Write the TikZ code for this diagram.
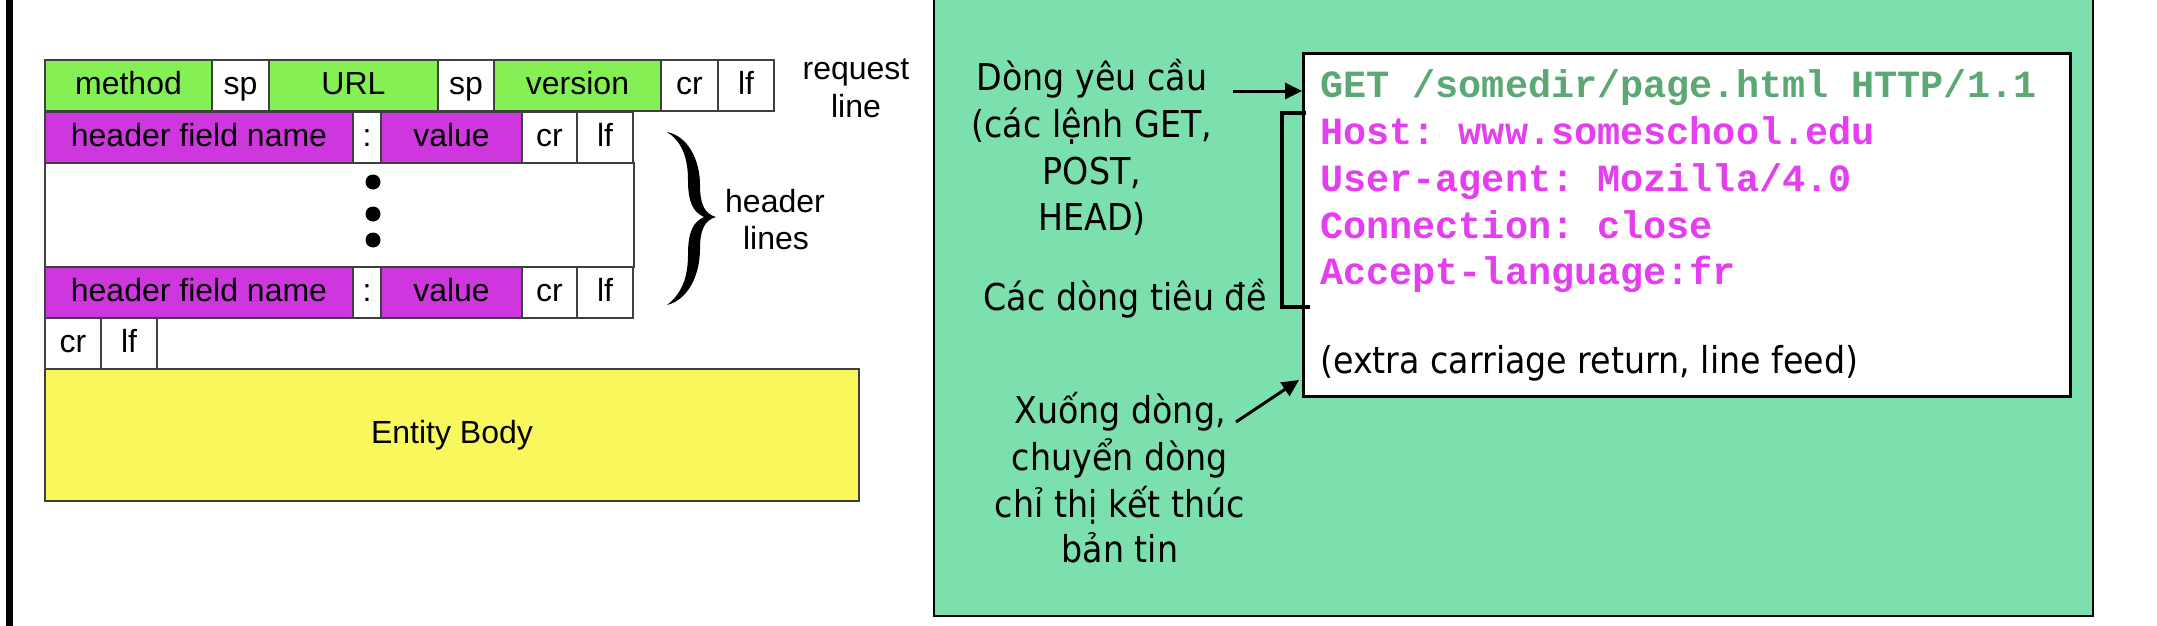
\documentclass[tikz,border=0pt]{standalone}
\usepackage{fontspec}
\setmainfont{Liberation Sans}
\newfontfamily\lblfont[FakeStretch=0.9]{DejaVu Sans}
\newfontfamily\monofont{Liberation Mono}
\usetikzlibrary{arrows.meta}
\definecolor{rowgreen}{RGB}{132,240,84}
\definecolor{rowmag}{RGB}{206,54,222}
\definecolor{bodyyel}{RGB}{248,248,92}
\definecolor{panelgreen}{RGB}{123,224,174}
\definecolor{getgreen}{RGB}{92,168,116}
\definecolor{hdrmag}{RGB}{228,62,240}
\frenchspacing
\begin{document}
\begin{tikzpicture}[x=1pt,y=-1pt,
  cell/.style={draw=black!75, line width=1.5pt, inner sep=0pt, outer sep=0pt, anchor=north west,
    text height=27pt, text depth=10pt, font=\fontsize{32}{38}\selectfont},
  gcell/.style={cell, fill=rowgreen, minimum height=51pt},
  wcell/.style={cell, fill=white, minimum height=51pt},
  mcell/.style={cell, fill=rowmag, minimum height=51pt},
  side/.style={anchor=base, inner sep=0pt, font=\fontsize{32}{38}\selectfont},
  lbl/.style={anchor=base, inner sep=0pt, font=\lblfont\fontsize{37}{47}\selectfont},
  code/.style={anchor=base west, inner sep=0pt, font=\frenchspacing\monofont\bfseries\fontsize{38.5}{47}\selectfont},
  arr/.style={line width=3pt, -{Triangle[length=17pt,width=16pt]}}
]
\useasboundingbox (0,0) rectangle (2157,626);
% left black bar
\fill[black] (6,-2) rectangle (13,628);

% ---- request line ----
\node[gcell, minimum width=167pt] (method) at (45,60) {method};
\node[wcell, minimum width=57pt] (sp1) at (212,60) {sp};
\node[gcell, minimum width=169pt] (url) at (269,60) {URL};
\node[wcell, minimum width=56pt] (sp2) at (438,60) {sp};
\node[gcell, minimum width=167pt] (version) at (494,60) {version};
\node[wcell, minimum width=57pt] (cr1) at (661,60) {cr};
\node[wcell, minimum width=56pt] (lf1) at (718,60) {lf};
\node[side] (req) at (856,79) {request};
\node[side] (reqline) at (856,117) {line};

% ---- header line 1 ----
\node[mcell, minimum width=308pt] (hfn1) at (45,112) {header field name};
\node[wcell, minimum width=28pt] (col1) at (353,112) {:};
\node[mcell, minimum width=141pt] (val1) at (381,112) {value};
\node[wcell, minimum width=55pt] (cr2) at (522,112) {cr};
\node[wcell, minimum width=56pt] (lf2) at (577,112) {lf};

% ---- dots box ----
\node[cell, fill=white, minimum width=589pt, minimum height=104pt] (dotsbox) at (45,163) {};
\fill[black] (373,182) circle (7.5);
\fill[black] (373,214) circle (7.5);
\fill[black] (373,240) circle (7.5);

% ---- header line 2 ----
\node[mcell, minimum width=308pt] (hfn2) at (45,267) {header field name};
\node[wcell, minimum width=28pt] (col2) at (353,267) {:};
\node[mcell, minimum width=141pt] (val2) at (381,267) {value};
\node[wcell, minimum width=55pt] (cr3) at (522,267) {cr};
\node[wcell, minimum width=56pt] (lf3) at (577,267) {lf};

% ---- brace + header lines ----
\fill[black] (667,132) .. controls (688,136) and (700,160) .. (700,185)
  .. controls (700,205) and (705,214) .. (716,217)
  .. controls (705,220) and (700,229) .. (700,249)
  .. controls (700,275) and (688,300) .. (667,305)
  .. controls (680,295) and (688,280) .. (688,255)
  .. controls (688,232) and (693,222) .. (704,217)
  .. controls (693,212) and (688,202) .. (688,180)
  .. controls (688,155) and (680,140) .. (667,132) -- cycle;
\node[side] (hl1) at (775,212) {header};
\node[side] (hl2) at (776,249) {lines};

% ---- blank line ----
\node[wcell, minimum width=56pt] (cr4) at (45,318) {cr};
\node[wcell, minimum width=56pt] (lf4) at (101,318) {lf};

% ---- entity body ----
\node[cell, fill=bodyyel, minimum width=814pt, minimum height=132pt] (body) at (45,369) {Entity Body};

% ---- right panel ----
\draw[line width=2.5pt, fill=panelgreen] (934,-10) rectangle (2093,616);
\node[draw, line width=3pt, fill=white, anchor=north west, inner sep=0pt,
  minimum width=767pt, minimum height=343pt] (msg) at (1302,52) {};

\node[code, text=getgreen] (c0) at (1320,97) {GET /somedir/page.html HTTP/1.1};
\node[code, text=hdrmag] (c1) at (1320,144) {Host: www.someschool.edu};
\node[code, text=hdrmag] (c2) at (1320,191) {User-agent: Mozilla/4.0};
\node[code, text=hdrmag] (c3) at (1320,238) {Connection: close};
\node[code, text=hdrmag] (c4) at (1320,284) {Accept-language:fr};
\node[lbl, anchor=base west] (extra) at (1320,373) {(extra carriage return, line feed)};

\node[lbl] (d1) at (1092,90) {Dòng yêu cầu};
\node[lbl] (d2) at (1092,137) {(các lệnh GET,};
\node[lbl] (d3) at (1092,184) {POST,};
\node[lbl] (d4) at (1092,230) {HEAD)};
\node[lbl] (hd) at (1125,310) {Các dòng tiêu đề};
\node[lbl] (x1) at (1120,423) {Xuống dòng,};
\node[lbl] (x2) at (1120,470) {chuyển dòng};
\node[lbl] (x3) at (1120,517) {chỉ thị kết thúc};
\node[lbl] (x4) at (1120,562) {bản tin};

\coordinate (a1) at (1233,91);
\draw[arr] (a1) -- (a1 -| msg.west);
\coordinate (a2) at (1236,422);
\coordinate (a2e) at (1299,380);
\draw[arr] (a2) -- (a2e);

\draw[line width=3.3pt] (1306,113) -- (1282,113) -- (1282,307) -- (1310,307);
\end{tikzpicture}
\end{document}
